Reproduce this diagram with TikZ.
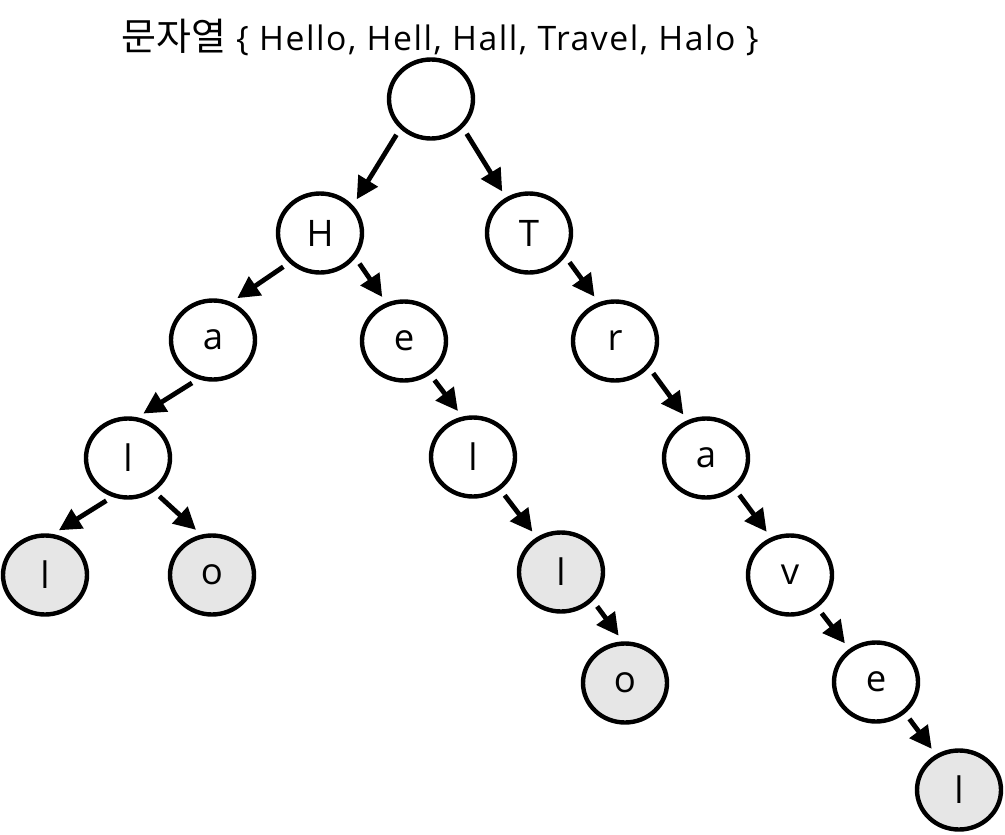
\documentclass[tikz,border=0pt]{standalone}
\usepackage{fontspec}
\setmainfont{Open Sans}
\newfontfamily\korfont{Noto Sans CJK KR}
\usetikzlibrary{arrows.meta,shapes.geometric}
\definecolor{endgray}{RGB}{230,230,230}
\tikzset{trie/.style={ellipse, draw, line width=1.1mm,
  minimum width=21mm, minimum height=19.75mm, inner sep=0pt,
  font=\fontsize{26}{30}\selectfont}}
\tikzset{endnode/.style={trie, fill=endgray}}
\tikzset{edge/.style={line width=1.2mm, -{Triangle[length=5.5mm,width=5.5mm]},
  shorten <=1.75mm, shorten >=1.75mm}}

\begin{document}
\begin{tikzpicture}[x=0.25mm, y=-0.25mm]
      \useasboundingbox (0,0) rectangle (1005,835);
      \node (title) at (440,37) {{\fontsize{27}{30}\selectfont\korfont 문자열}\hspace{2.5mm}{\fontsize{24}{27}\selectfont\addfontfeature{LetterSpace=4.5}\{ Hello, Hell, Hall, Travel, Halo \}}};

      \node [trie] (root) at (431,99) {};
      \node [trie] (H) at (320,233) {H};
      \node [trie] (T) at (529,233) {T};
      \node [trie] (Ha) at (213,340) {a};
      \node [trie] (He) at (404,341) {e};
      \node [trie] (Tr) at (615,341) {r};
      \node [trie] (Hal) at (128,458) {l};
      \node [trie] (Hel) at (473,457) {l};
      \node [trie] (Tra) at (706,458) {a};
      \node [endnode] (Hall) at (45,575) {l};
      \node [endnode] (Halo) at (212,575) {o};
      \node [endnode] (Hell) at (561,572) {l};
      \node [trie] (Trav) at (790,575) {v};
      \node [endnode] (Hello) at (625,683) {o};
      \node [trie] (Trave) at (876,682) {e};
      \node [endnode] (Travel) at (959,790) {l};

      \draw [edge] (root.224) -- (H.40);
      \draw [edge] (root.318) -- (T.123);
      \draw [edge] (H.224) -- (Ha.64);
      \draw [edge] (H.325) -- (He.115);
      \draw [edge] (Ha.249) -- (Hal.77);
      \draw [edge] (Hal.248) -- (Hall.79);
      \draw [edge] (Hal.308) -- (Halo.105);
      \draw [edge] (He.308) -- (Hel.105);
      \draw [edge] (Hel.310) -- (Hell.125);
      \draw [edge] (Hell.318) -- (Hello.93);
      \draw [edge] (T.327) -- (Tr.113);
      \draw [edge] (Tr.322) -- (Tra.116);
      \draw [edge] (Tra.313) -- (Trav.117);
      \draw [edge] (Trav.310) -- (Trave.129);
      \draw [edge] (Trave.313) -- (Travel.123);
    \end{tikzpicture}
\end{document}
